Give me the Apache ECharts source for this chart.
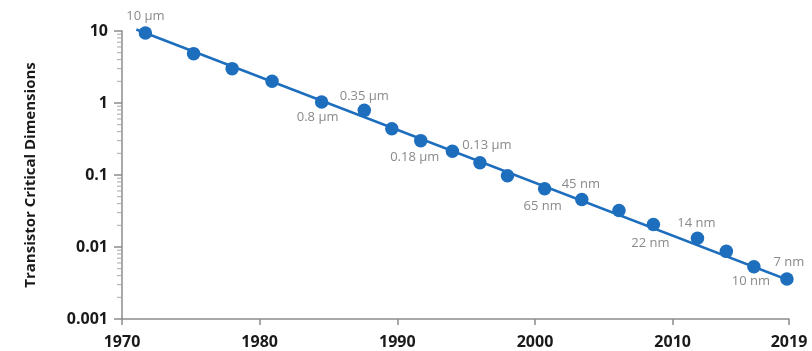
<!DOCTYPE html>
<html>
<head>
<meta charset="utf-8">
<script src="https://cdn.jsdelivr.net/npm/echarts@6/dist/echarts.min.js"></script>
<style>
  html, body { margin: 0; padding: 0; background: #ffffff; }
  #chart { width: 812px; height: 351px; }
</style>
</head>
<body>
<div id="chart"></div>
<script>
// ---- data ----
const years = [1971.7, 1975.2, 1978.0, 1980.9, 1984.5, 1987.6, 1989.6, 1991.7, 1994.0, 1996.0,
               1998.0, 2000.7, 2003.4, 2006.1, 2008.6, 2011.8, 2013.9, 2015.9, 2018.3];
const dims = [9.4, 4.85, 3.0, 2.0, 1.03, 0.79, 0.44, 0.30, 0.214, 0.148,
              0.0975, 0.0643, 0.0456, 0.0321, 0.0205, 0.0132, 0.0087, 0.00533, 0.0036];
const nodeLabels = ['10 µm', '', '', '', '0.8 µm', '0.35 µm', '', '0.18 µm', '', '0.13 µm',
                    '', '65 nm', '45 nm', '', '22 nm', '14 nm', '', '10 nm', '7 nm'];
const trendYears = [1971.04, 2019.66];
const trendValues = [10.5, 0.00281];
const xTickLabels = ['1970', '1980', '1990', '2000', '2010', '2019'];
const yTickLabels = ['0.001', '0.01', '0.1', '1', '10'];
const decades = [0.001, 0.01, 0.1, 1];
const mantissas = [2, 3, 4, 5, 6, 7, 8, 9];
const yAxisName = 'Transistor Critical Dimensions';

// ---- chart ----
const BLUE = '#1e6ebe';
const FONT = 'Open Sans';
const labelShift = [[0, -17], null, null, null, [-4, 15.5], [0, -14], null, [-6, 17], null, [7, -17],
                    null, [-2, 17], [-1, -15], null, [-3, 19], [-1, -15], null, [-3, 15], [2, -17]];

const pointData = years.map((y, i) => {
  const item = { value: [y, dims[i]] };
  if (nodeLabels[i]) {
    item.label = {
      show: true,
      formatter: nodeLabels[i],
      position: 'inside',
      offset: labelShift[i],
      color: '#8a8a8a',
      fontSize: 13,
      fontFamily: FONT,
      align: 'center',
      verticalAlign: 'middle'
    };
  }
  return item;
});

const minorData = [];
decades.forEach(d => mantissas.forEach(m => minorData.push([1970, d * m])));

const chart = echarts.init(document.getElementById('chart'), null, { renderer: 'canvas' });
chart.setOption({
  animation: false,
  backgroundColor: '#ffffff',
  grid: { left: 122, right: 23, top: 31, bottom: 32, containLabel: false, outerBoundsMode: 'none' },
  xAxis: {
    type: 'value',
    min: 1970,
    max: 2018.45,
    interval: 10,
    splitLine: { show: false },
    axisLine: { show: true, lineStyle: { color: '#8c8c8c', width: 1.5 } },
    axisTick: { show: true, length: 6, lineStyle: { color: '#8c8c8c', width: 1.5 } },
    axisLabel: {
      margin: 15,
      color: '#1a1a1a',
      fontSize: 16,
      fontWeight: 'bold',
      fontFamily: FONT,
      showMaxLabel: true,
      formatter: v => v > 2015 ? xTickLabels[5] : xTickLabels[Math.round((v - 1970) / 10)]
    }
  },
  yAxis: {
    type: 'log',
    logBase: 10,
    min: 0.001,
    max: 10,
    name: yAxisName,
    nameLocation: 'middle',
    nameRotate: 90,
    nameGap: 84,
    nameTextStyle: { color: '#1a1a1a', fontSize: 15, fontWeight: 'bold', fontFamily: FONT },
    splitLine: { show: false },
    axisLine: { show: true, lineStyle: { color: '#8c8c8c', width: 1.5 } },
    axisTick: { show: true, length: 8, lineStyle: { color: '#8c8c8c', width: 1.5 } },
    axisLabel: {
      margin: 14,
      color: '#1a1a1a',
      fontSize: 16,
      fontWeight: 'bold',
      fontFamily: FONT,
      formatter: v => yTickLabels[Math.round(Math.log10(v)) + 3]
    }
  },
  series: [
    {
      type: 'custom',
      coordinateSystem: 'cartesian2d',
      clip: false,
      silent: true,
      z: 1,
      data: minorData,
      encode: { x: 0, y: 1 },
      renderItem: (params, api) => {
        const p = api.coord([api.value(0), api.value(1)]);
        return {
          type: 'line',
          shape: { x1: p[0] - 5, y1: p[1], x2: p[0], y2: p[1] },
          style: { stroke: '#a8a8a8', lineWidth: 1 }
        };
      }
    },
    {
      type: 'line',
      data: trendYears.map((y, i) => [y, trendValues[i]]),
      showSymbol: false,
      symbol: 'none',
      clip: false,
      z: 2,
      lineStyle: { color: BLUE, width: 2.5 }
    },
    {
      type: 'scatter',
      data: pointData,
      symbol: 'circle',
      symbolSize: 13.5,
      clip: false,
      z: 3,
      itemStyle: { color: BLUE, opacity: 1 }
    }
  ]
});
</script>
</body>
</html>
